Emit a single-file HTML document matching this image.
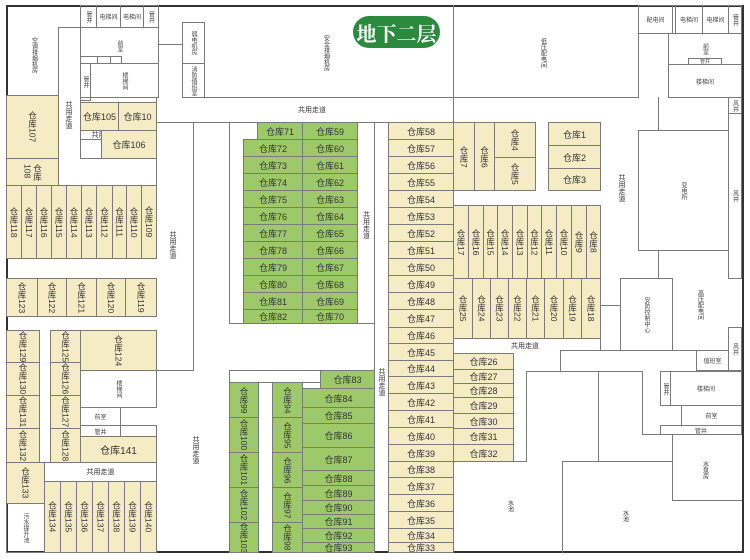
<!DOCTYPE html>
<html><head><meta charset="utf-8"><style>
body{margin:0;width:750px;height:560px;background:#fff;position:relative;overflow:hidden;font-family:"Liberation Sans","Noto Sans CJK SC",sans-serif;}
div{position:absolute;box-sizing:border-box;}
.r{border:1px solid #7a7a7a;display:flex;align-items:center;justify-content:center;font-size:9px;color:#333;white-space:nowrap;overflow:hidden;}
.y{background:#f5ebc4;}
.g{background:#9dc96b;}
.v{writing-mode:vertical-rl;font-size:8.5px;}
.s{font-size:6px;color:#444;}
.hl{border-top:1px solid #7a7a7a;height:0;}
.vl{border-left:1px solid #7a7a7a;width:0;}
.t{font-size:7px;color:#333;display:flex;align-items:center;justify-content:center;white-space:nowrap;}
</style></head><body>
<div style="left:6px;top:5px;width:738px;height:548px;border:2px solid #333;"></div>

<div class="r s v" style="left:80px;top:5px;width:17px;height:23px;font-size:6px;">管井</div>
<div class="r s" style="left:96px;top:5px;width:25px;height:23px;">电梯间</div>
<div class="r s" style="left:120px;top:5px;width:24px;height:23px;">电梯间</div>
<div class="r s v" style="left:143px;top:5px;width:16px;height:23px;font-size:6px;">管井</div>
<div class="r s v" style="left:80px;top:27px;width:79px;height:37px;font-size:6px;">前室</div>
<div class="r" style="left:80px;top:56px;width:18px;height:8px;"></div>
<div class="r" style="left:97px;top:56px;width:14px;height:8px;"></div>
<div class="r" style="left:110px;top:56px;width:12px;height:8px;"></div>
<div class="r s v" style="left:80px;top:63px;width:11px;height:38px;font-size:6px;">管井</div>
<div class="r s v" style="left:90px;top:63px;width:69px;height:35px;font-size:6px;">楼梯间</div>
<div class="vl" style="left:58px;top:27px;height:158px;"></div>
<div class="hl" style="left:58px;top:27px;width:22px;"></div>
<div class="t v" style="left:24px;top:30px;width:20px;height:50px;font-size:6px;">空调排烟机房</div>
<div class="t v" style="left:60px;top:95px;width:16px;height:40px;font-size:7px;">共用走道</div>
<div class="r y v" style="left:6px;top:95px;width:53px;height:64px;">仓库107</div>
<div class="r y v" style="left:6px;top:158px;width:53px;height:28px;line-height:10px;white-space:normal;">仓库<br>108</div>
<div class="r" style="left:80px;top:97px;width:77px;height:62px;"></div>
<div class="r y" style="left:80px;top:102px;width:39px;height:29px;">仓库105</div>
<div class="r y" style="left:118px;top:102px;width:39px;height:29px;">仓库10</div>
<div class="r" style="left:80px;top:130px;width:51px;height:10px;font-size:7px;">共用走道</div>
<div class="r y" style="left:101px;top:130px;width:56px;height:29px;">仓库106</div>
<div class="hl" style="left:158px;top:44px;width:25px;"></div>
<div class="r s v" style="left:182px;top:22px;width:23px;height:42px;font-size:6px;">弱电机房</div>
<div class="r s v" style="left:182px;top:63px;width:23px;height:35px;font-size:6px;">消防值班室</div>
<div class="vl" style="left:182px;top:44px;height:54px;"></div>
<div class="hl" style="left:182px;top:97px;width:456px;"></div>
<div class="hl" style="left:156px;top:122px;width:297px;"></div>
<div class="t" style="left:280px;top:104px;width:64px;height:12px;">共用走道</div>
<div class="t v" style="left:318px;top:35px;width:16px;height:35px;font-size:6px;">安全排烟机房</div>
<div style="left:353px;top:16px;width:87px;height:32px;background:#2b8a3e;border-radius:16px;color:#fff;font-family:'Noto Serif CJK SC',serif;font-weight:bold;font-size:20px;display:flex;align-items:center;justify-content:center;">地下二层</div>
<div class="vl" style="left:453px;top:5px;height:117px;"></div>

<div class="r y v" style="left:6px;top:185px;width:16px;height:74px;">仓库118</div>
<div class="r y v" style="left:21px;top:185px;width:16px;height:74px;">仓库117</div>
<div class="r y v" style="left:36px;top:185px;width:16px;height:74px;">仓库116</div>
<div class="r y v" style="left:51px;top:185px;width:16px;height:74px;">仓库115</div>
<div class="r y v" style="left:66px;top:185px;width:16px;height:74px;">仓库114</div>
<div class="r y v" style="left:81px;top:185px;width:16px;height:74px;">仓库113</div>
<div class="r y v" style="left:96px;top:185px;width:17px;height:74px;">仓库112</div>
<div class="r y v" style="left:112px;top:185px;width:15px;height:74px;">仓库111</div>
<div class="r y v" style="left:126px;top:185px;width:16px;height:74px;">仓库110</div>
<div class="r y v" style="left:141px;top:185px;width:16px;height:74px;">仓库109</div>
<div class="r y v" style="left:6px;top:278px;width:32px;height:39px;">仓库123</div>
<div class="r y v" style="left:37px;top:278px;width:30px;height:39px;">仓库122</div>
<div class="r y v" style="left:66px;top:278px;width:31px;height:39px;">仓库121</div>
<div class="r y v" style="left:96px;top:278px;width:30px;height:39px;">仓库120</div>
<div class="r y v" style="left:125px;top:278px;width:32px;height:39px;">仓库119</div>
<div class="vl" style="left:193px;top:122px;height:249px;"></div>
<div class="hl" style="left:156px;top:370px;width:38px;"></div>
<div class="vl" style="left:156px;top:122px;height:63px;"></div>
<div class="t v" style="left:164px;top:225px;width:16px;height:40px;">共用走道</div>

<div class="r y v" style="left:6px;top:330px;width:34px;height:33px;">仓库129</div>
<div class="r y v" style="left:6px;top:362px;width:34px;height:34px;">仓库130</div>
<div class="r y v" style="left:6px;top:395px;width:34px;height:34px;">仓库131</div>
<div class="r y v" style="left:6px;top:428px;width:34px;height:35px;">仓库132</div>
<div class="r y v" style="left:50px;top:330px;width:31px;height:33px;">仓库125</div>
<div class="r y v" style="left:50px;top:362px;width:31px;height:34px;">仓库126</div>
<div class="r y v" style="left:50px;top:395px;width:31px;height:34px;">仓库127</div>
<div class="r y v" style="left:50px;top:428px;width:31px;height:35px;">仓库128</div>
<div class="r y v" style="left:80px;top:330px;width:77px;height:41px;">仓库124</div>
<div class="r s v" style="left:80px;top:370px;width:77px;height:38px;font-size:6px;">楼梯间</div>
<div class="r s" style="left:80px;top:407px;width:41px;height:19px;">前室</div>
<div class="r s" style="left:80px;top:425px;width:41px;height:12px;">管井</div>
<div class="r" style="left:120px;top:425px;width:37px;height:12px;"></div>
<div class="r y" style="left:80px;top:436px;width:77px;height:27px;font-size:10px;">仓库141</div>
<div class="r y v" style="left:6px;top:462px;width:39px;height:42px;">仓库133</div>
<div class="r" style="left:44px;top:462px;width:113px;height:20px;font-size:7px;">共用走道</div>
<div class="r s v" style="left:6px;top:503px;width:39px;height:50px;font-size:6px;">污水提升池</div>
<div class="r y v" style="left:44px;top:481px;width:17px;height:72px;">仓库134</div>
<div class="r y v" style="left:60px;top:481px;width:17px;height:72px;">仓库135</div>
<div class="r y v" style="left:76px;top:481px;width:17px;height:72px;">仓库136</div>
<div class="r y v" style="left:92px;top:481px;width:17px;height:72px;">仓库137</div>
<div class="r y v" style="left:108px;top:481px;width:17px;height:72px;">仓库138</div>
<div class="r y v" style="left:124px;top:481px;width:17px;height:72px;">仓库139</div>
<div class="r y v" style="left:140px;top:481px;width:17px;height:72px;">仓库140</div>
<div class="t v" style="left:187px;top:430px;width:16px;height:40px;">共用走道</div>

<div class="vl" style="left:229px;top:122px;height:202px;"></div>
<div class="hl" style="left:229px;top:323px;width:146px;"></div>
<div class="vl" style="left:374px;top:122px;height:249px;"></div>
<div class="vl" style="left:388px;top:122px;height:431px;"></div>
<div class="t v" style="left:357px;top:205px;width:17px;height:40px;">共用走道</div>
<div class="r g" style="left:257px;top:122px;width:46px;height:18px;">仓库71</div>
<div class="r g" style="left:302px;top:122px;width:56px;height:18px;">仓库59</div>
<div class="r g" style="left:243px;top:139px;width:60px;height:18px;">仓库72</div>
<div class="r g" style="left:302px;top:139px;width:56px;height:18px;">仓库60</div>
<div class="r g" style="left:243px;top:156px;width:60px;height:18px;">仓库73</div>
<div class="r g" style="left:302px;top:156px;width:56px;height:18px;">仓库61</div>
<div class="r g" style="left:243px;top:173px;width:60px;height:18px;">仓库74</div>
<div class="r g" style="left:302px;top:173px;width:56px;height:18px;">仓库62</div>
<div class="r g" style="left:243px;top:190px;width:60px;height:18px;">仓库75</div>
<div class="r g" style="left:302px;top:190px;width:56px;height:18px;">仓库63</div>
<div class="r g" style="left:243px;top:207px;width:60px;height:18px;">仓库76</div>
<div class="r g" style="left:302px;top:207px;width:56px;height:18px;">仓库64</div>
<div class="r g" style="left:243px;top:224px;width:60px;height:18px;">仓库77</div>
<div class="r g" style="left:302px;top:224px;width:56px;height:18px;">仓库65</div>
<div class="r g" style="left:243px;top:241px;width:60px;height:18px;">仓库78</div>
<div class="r g" style="left:302px;top:241px;width:56px;height:18px;">仓库66</div>
<div class="r g" style="left:243px;top:258px;width:60px;height:18px;">仓库79</div>
<div class="r g" style="left:302px;top:258px;width:56px;height:18px;">仓库67</div>
<div class="r g" style="left:243px;top:275px;width:60px;height:18px;">仓库80</div>
<div class="r g" style="left:302px;top:275px;width:56px;height:18px;">仓库68</div>
<div class="r g" style="left:243px;top:292px;width:60px;height:18px;">仓库81</div>
<div class="r g" style="left:302px;top:292px;width:56px;height:18px;">仓库69</div>
<div class="r g" style="left:243px;top:309px;width:60px;height:15px;">仓库82</div>
<div class="r g" style="left:302px;top:309px;width:56px;height:15px;">仓库70</div>

<div class="r" style="left:229px;top:370px;width:92px;height:13px;"></div>
<div class="r g v" style="left:229px;top:382px;width:30px;height:36px;">仓库99</div>
<div class="r g v" style="left:229px;top:417px;width:30px;height:36px;">仓库100</div>
<div class="r g v" style="left:229px;top:452px;width:30px;height:36px;">仓库101</div>
<div class="r g v" style="left:229px;top:487px;width:30px;height:36px;">仓库102</div>
<div class="r g v" style="left:229px;top:522px;width:30px;height:31px;">仓库103</div>
<div class="r g v" style="left:272px;top:382px;width:31px;height:36px;">仓库94</div>
<div class="r g v" style="left:272px;top:417px;width:31px;height:36px;">仓库95</div>
<div class="r g v" style="left:272px;top:452px;width:31px;height:36px;">仓库96</div>
<div class="r g v" style="left:272px;top:487px;width:31px;height:36px;">仓库97</div>
<div class="r g v" style="left:272px;top:522px;width:31px;height:31px;">仓库98</div>
<div class="r g" style="left:320px;top:370px;width:55px;height:19px;">仓库83</div>
<div class="r g" style="left:302px;top:388px;width:73px;height:20px;">仓库84</div>
<div class="r g" style="left:302px;top:407px;width:73px;height:17px;">仓库85</div>
<div class="r g" style="left:302px;top:423px;width:73px;height:25px;">仓库86</div>
<div class="r g" style="left:302px;top:447px;width:73px;height:24px;">仓库87</div>
<div class="r g" style="left:302px;top:470px;width:73px;height:16px;">仓库88</div>
<div class="r g" style="left:302px;top:485px;width:73px;height:16px;">仓库89</div>
<div class="r g" style="left:302px;top:500px;width:73px;height:15px;">仓库90</div>
<div class="r g" style="left:302px;top:514px;width:73px;height:15px;">仓库91</div>
<div class="r g" style="left:302px;top:528px;width:73px;height:15px;">仓库92</div>
<div class="r g" style="left:302px;top:542px;width:73px;height:11px;">仓库93</div>
<div class="vl" style="left:374px;top:370px;height:183px;"></div>
<div class="t v" style="left:374px;top:362px;width:14px;height:40px;">共用走道</div>

<div class="r y" style="left:388px;top:122px;width:66px;height:18px;">仓库58</div>
<div class="r y" style="left:388px;top:139px;width:66px;height:18px;">仓库57</div>
<div class="r y" style="left:388px;top:156px;width:66px;height:18px;">仓库56</div>
<div class="r y" style="left:388px;top:173px;width:66px;height:18px;">仓库55</div>
<div class="r y" style="left:388px;top:190px;width:66px;height:18px;">仓库54</div>
<div class="r y" style="left:388px;top:207px;width:66px;height:18px;">仓库53</div>
<div class="r y" style="left:388px;top:224px;width:66px;height:18px;">仓库52</div>
<div class="r y" style="left:388px;top:241px;width:66px;height:18px;">仓库51</div>
<div class="r y" style="left:388px;top:258px;width:66px;height:18px;">仓库50</div>
<div class="r y" style="left:388px;top:275px;width:66px;height:18px;">仓库49</div>
<div class="r y" style="left:388px;top:292px;width:66px;height:18px;">仓库48</div>
<div class="r y" style="left:388px;top:309px;width:66px;height:19px;">仓库47</div>
<div class="r y" style="left:388px;top:327px;width:66px;height:17px;">仓库46</div>
<div class="r y" style="left:388px;top:343px;width:66px;height:18px;">仓库45</div>
<div class="r y" style="left:388px;top:360px;width:66px;height:17px;">仓库44</div>
<div class="r y" style="left:388px;top:376px;width:66px;height:18px;">仓库43</div>
<div class="r y" style="left:388px;top:393px;width:66px;height:18px;">仓库42</div>
<div class="r y" style="left:388px;top:410px;width:66px;height:18px;">仓库41</div>
<div class="r y" style="left:388px;top:427px;width:66px;height:18px;">仓库40</div>
<div class="r y" style="left:388px;top:444px;width:66px;height:18px;">仓库39</div>
<div class="r y" style="left:388px;top:461px;width:66px;height:17px;">仓库38</div>
<div class="r y" style="left:388px;top:477px;width:66px;height:18px;">仓库37</div>
<div class="r y" style="left:388px;top:494px;width:66px;height:18px;">仓库36</div>
<div class="r y" style="left:388px;top:511px;width:66px;height:18px;">仓库35</div>
<div class="r y" style="left:388px;top:528px;width:66px;height:15px;">仓库34</div>
<div class="r y" style="left:388px;top:542px;width:66px;height:11px;">仓库33</div>

<div class="r y v" style="left:453px;top:122px;width:22px;height:69px;">仓库7</div>
<div class="r y v" style="left:474px;top:122px;width:21px;height:69px;">仓库6</div>
<div class="r y v" style="left:494px;top:122px;width:42px;height:36px;">仓库4</div>
<div class="r y v" style="left:494px;top:157px;width:42px;height:34px;">仓库5</div>
<div class="r y" style="left:548px;top:122px;width:53px;height:24px;">仓库1</div>
<div class="r y" style="left:548px;top:145px;width:53px;height:24px;">仓库2</div>
<div class="r y" style="left:548px;top:168px;width:53px;height:23px;">仓库3</div>
<div class="r y v" style="left:453px;top:205px;width:16px;height:74px;">仓库17</div>
<div class="r y v" style="left:468px;top:205px;width:16px;height:74px;">仓库16</div>
<div class="r y v" style="left:483px;top:205px;width:15px;height:74px;">仓库15</div>
<div class="r y v" style="left:497px;top:205px;width:16px;height:74px;">仓库14</div>
<div class="r y v" style="left:512px;top:205px;width:16px;height:74px;">仓库13</div>
<div class="r y v" style="left:527px;top:205px;width:15px;height:74px;">仓库12</div>
<div class="r y v" style="left:541px;top:205px;width:16px;height:74px;">仓库11</div>
<div class="r y v" style="left:556px;top:205px;width:16px;height:74px;">仓库10</div>
<div class="r y v" style="left:571px;top:205px;width:16px;height:74px;">仓库9</div>
<div class="r y v" style="left:586px;top:205px;width:15px;height:74px;">仓库8</div>
<div class="r y v" style="left:453px;top:278px;width:20px;height:61px;">仓库25</div>
<div class="r y v" style="left:472px;top:278px;width:19px;height:61px;">仓库24</div>
<div class="r y v" style="left:490px;top:278px;width:19px;height:61px;">仓库23</div>
<div class="r y v" style="left:508px;top:278px;width:19px;height:61px;">仓库22</div>
<div class="r y v" style="left:526px;top:278px;width:19px;height:61px;">仓库21</div>
<div class="r y v" style="left:544px;top:278px;width:20px;height:61px;">仓库20</div>
<div class="r y v" style="left:563px;top:278px;width:19px;height:61px;">仓库19</div>
<div class="r y v" style="left:581px;top:278px;width:20px;height:61px;">仓库18</div>
<div class="t" style="left:500px;top:340px;width:50px;height:12px;">共用走道</div>
<div class="vl" style="left:600px;top:338px;height:13px;"></div>
<div class="t v" style="left:613px;top:168px;width:16px;height:40px;">共用走道</div>
<div class="r y" style="left:453px;top:353px;width:61px;height:17px;">仓库26</div>
<div class="r y" style="left:453px;top:369px;width:61px;height:15px;">仓库27</div>
<div class="r y" style="left:453px;top:383px;width:61px;height:15px;">仓库28</div>
<div class="r y" style="left:453px;top:397px;width:61px;height:17px;">仓库29</div>
<div class="r y" style="left:453px;top:413px;width:61px;height:16px;">仓库30</div>
<div class="r y" style="left:453px;top:428px;width:61px;height:17px;">仓库31</div>
<div class="r y" style="left:453px;top:444px;width:61px;height:18px;">仓库32</div>
<div class="hl" style="left:513px;top:461px;width:13px;"></div>
<div class="vl" style="left:526px;top:371px;height:91px;"></div>

<div class="t v" style="left:535px;top:30px;width:16px;height:45px;font-size:6px;">低压配电间</div>
<div class="vl" style="left:638px;top:5px;height:93px;"></div>
<div class="r s" style="left:638px;top:5px;width:35px;height:29px;">配电间</div>
<div class="r" style="left:672px;top:5px;width:4px;height:29px;"></div>
<div class="r s" style="left:675px;top:5px;width:28px;height:29px;">电梯间</div>
<div class="r s" style="left:702px;top:5px;width:27px;height:29px;">电梯间</div>
<div class="r s v" style="left:728px;top:5px;width:14px;height:29px;font-size:6px;">管井</div>
<div class="r s v" style="left:668px;top:33px;width:74px;height:32px;font-size:6px;">前室</div>
<div class="r s" style="left:688px;top:58px;width:34px;height:7px;font-size:5px;">管井</div>
<div class="r s" style="left:668px;top:64px;width:74px;height:34px;">楼梯间</div>
<div class="vl" style="left:658px;top:97px;height:34px;"></div>
<div class="r s v" style="left:728px;top:97px;width:14px;height:17px;font-size:6px;">风井</div>
<div class="r s v" style="left:638px;top:130px;width:91px;height:121px;font-size:6px;">变电所</div>
<div class="r s v" style="left:728px;top:113px;width:14px;height:166px;font-size:6px;">风井</div>
<div class="vl" style="left:658px;top:250px;height:29px;"></div>
<div class="hl" style="left:600px;top:305px;width:20px;"></div>
<div class="r s v" style="left:620px;top:278px;width:53px;height:73px;font-size:6px;">安防控制中心</div>
<div class="t v" style="left:692px;top:285px;width:16px;height:40px;font-size:6px;">高压配电间</div>
<div class="r s v" style="left:728px;top:327px;width:14px;height:44px;font-size:6px;">风井</div>
<div class="hl" style="left:560px;top:350px;width:168px;"></div>
<div class="vl" style="left:560px;top:350px;height:21px;"></div>
<div class="r s" style="left:696px;top:350px;width:33px;height:21px;">值班室</div>
<div class="hl" style="left:526px;top:371px;width:116px;"></div>
<div class="vl" style="left:642px;top:371px;height:64px;"></div>
<div class="r s v" style="left:660px;top:371px;width:11px;height:35px;font-size:6px;">管井</div>
<div class="r s" style="left:670px;top:371px;width:72px;height:35px;">楼梯间</div>
<div class="r s" style="left:681px;top:405px;width:61px;height:21px;">前室</div>
<div class="r s" style="left:660px;top:425px;width:82px;height:10px;">管井</div>
<div class="hl" style="left:642px;top:434px;width:18px;"></div>
<div class="vl" style="left:598px;top:371px;height:91px;"></div>
<div class="hl" style="left:562px;top:461px;width:110px;"></div>
<div class="vl" style="left:562px;top:461px;height:92px;"></div>
<div class="vl" style="left:672px;top:434px;height:67px;"></div>
<div class="hl" style="left:672px;top:500px;width:70px;"></div>
<div class="t v" style="left:697px;top:455px;width:16px;height:30px;font-size:6px;">水泵房</div>
<div class="t v" style="left:502px;top:495px;width:16px;height:22px;font-size:6px;">水池</div>
<div class="t v" style="left:617px;top:505px;width:16px;height:22px;font-size:6px;">水池</div>
</body></html>
